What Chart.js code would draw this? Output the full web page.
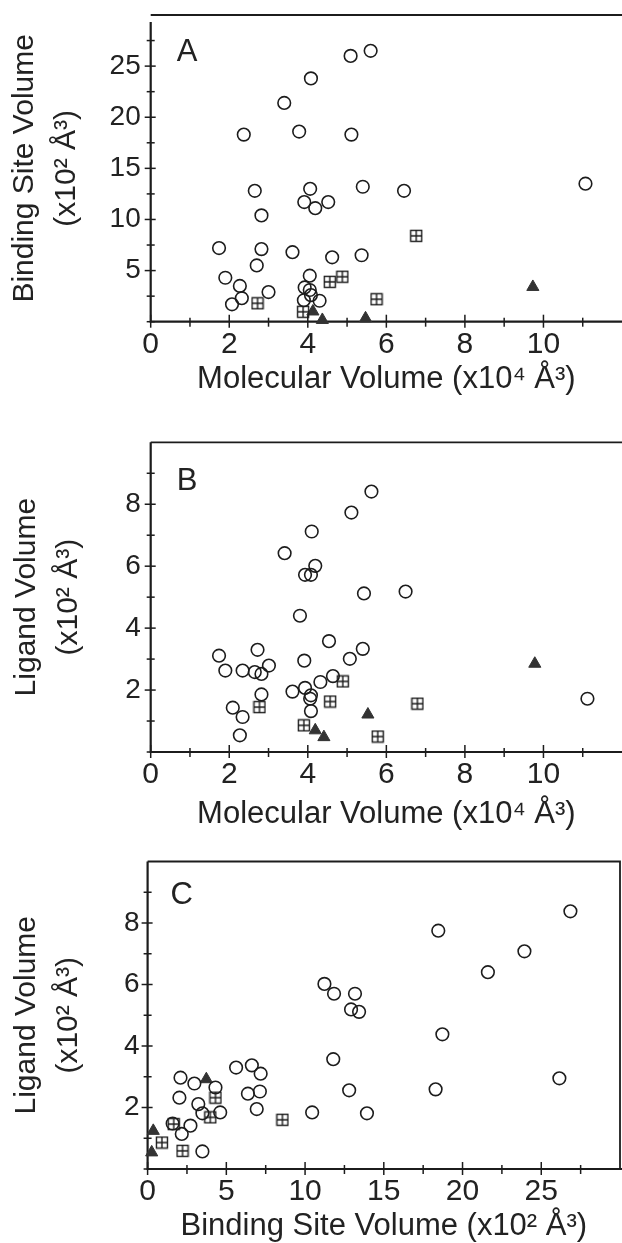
<!DOCTYPE html>
<html><head><meta charset="utf-8">
<script src="https://cdn.jsdelivr.net/npm/chart.js@4.4.1/dist/chart.umd.min.js"></script>
<style>
html,body{margin:0;padding:0;background:#fff;overflow:hidden;width:622px;height:1243px;}
canvas{position:absolute;left:0;display:block;}
</style></head><body>
<canvas id="ca" width="622" height="405" style="top:0px"></canvas>
<canvas id="cb" width="622" height="435" style="top:405px"></canvas>
<canvas id="cc" width="622" height="403" style="top:840px"></canvas>
<script>
// ---------- DATA ----------
// Panel A: Molecular Volume (x10^4 Å^3) vs Binding Site Volume (x10^2 Å^3)
const aCircleMol  = [5.60,5.09,4.08,3.40,2.37,3.78,5.11,11.07,5.40,6.45,2.65,4.06,3.91,4.19,4.52,2.82,1.74,2.82,3.61,4.62,5.37,2.70,1.90,4.05,2.27,2.32,2.07,3.00,3.92,4.05,3.90,4.08,4.30];
const aCircleSite = [26.5,26.0,23.8,21.4,18.3,18.6,18.3,13.5,13.2,12.8,12.8,13.0,11.7,11.1,11.7,10.4,7.2,7.1,6.8,6.3,6.5,5.5,4.3,4.5,3.5,2.3,1.7,2.9,3.35,3.1,2.1,2.6,2.05];
const aSquareMol  = [2.72,4.56,4.88,5.75,6.76,3.88];
const aSquareSite = [1.8,3.9,4.4,2.2,8.4,0.97];
const aTriMol     = [9.73,5.47,4.37,4.13];
const aTriSite    = [3.4,0.33,0.17,1.0];

// Panel B: Molecular Volume (x10^4 Å^3) vs Ligand Volume (x10^2 Å^3)
const bCircleMol  = [5.62,5.11,4.10,3.41,4.19,3.93,4.08,5.43,6.49,3.80,4.54,5.40,2.72,1.74,3.91,5.07,3.01,1.90,2.34,2.65,2.82,4.64,4.32,3.61,3.93,2.82,4.08,4.06,2.09,2.34,4.08,2.27,11.12];
const bCircleLig  = [8.41,7.73,7.12,6.42,6.01,5.72,5.72,5.12,5.18,4.40,3.58,3.33,3.30,3.11,2.95,3.01,2.79,2.63,2.63,2.58,2.52,2.45,2.26,1.95,2.07,1.86,1.83,1.72,1.43,1.13,1.32,0.54,1.72];
const bSquareMol  = [4.89,4.57,2.77,6.79,3.90,5.78];
const bSquareLig  = [2.28,1.63,1.45,1.56,0.86,0.50];
const bTriMol     = [9.78,5.53,4.19,4.41];
const bTriLig     = [2.85,1.21,0.70,0.48];

// Panel C: Binding Site Volume (x10^2 Å^3) vs Ligand Volume (x10^2 Å^3)
const cCircleSite = [26.85,18.46,23.93,21.61,11.23,11.84,13.17,12.92,13.43,18.72,11.79,26.15,18.29,12.80,13.93,10.45,5.62,6.62,7.18,6.37,7.13,6.93,2.09,2.97,2.02,3.22,3.48,4.61,2.72,2.17,1.59,3.48,4.31];
const cCircleLig  = [8.38,7.75,7.08,6.40,6.02,5.70,5.70,5.19,5.11,4.38,3.57,2.95,2.59,2.56,1.81,1.84,3.30,3.37,3.10,2.45,2.52,1.95,2.97,2.78,2.32,2.11,1.81,1.84,1.41,1.14,1.48,0.57,2.65];
const cSquareSite = [8.56,4.31,3.98,1.66,0.91,2.22];
const cSquareLig  = [1.60,2.32,1.68,1.46,0.86,0.59];
const cTriSite    = [3.73,0.36,0.26];
const cTriLig     = [2.92,1.24,0.54];

// Axis tick settings
const xTicksMol  = {min:0, max:12, step:1, labelEvery:2};
const xTicksSite = {min:0, max:30, step:2.5, labelEvery:5};
const yTicksSite = {min:0, max:30, step:2.5, labelEvery:5};
const yTicksLig  = {min:0, max:10, step:1, labelEvery:2};

// ---------- STYLE ----------
const INK = '#1c1c1c';
const TXT = '#222222';
const FONT = "'Liberation Sans', Arial, Helvetica, sans-serif";

function pairs(xs, ys){ return xs.map((v,i)=>({x:v, y:ys[i]})); }

// crossed-square marker
const sq = document.createElement('canvas');
sq.width = 14; sq.height = 14;
(function(){
  const g = sq.getContext('2d');
  g.strokeStyle = INK; g.lineWidth = 1.4;
  g.strokeRect(1.5,1.5,11,11);
  g.beginPath(); g.moveTo(7,1.5); g.lineTo(7,12.5); g.moveTo(1.5,7); g.lineTo(12.5,7); g.stroke();
})();

function datasets(cx, cy, sx, sy, tx, ty){
  return [
    {data:pairs(cx,cy), pointStyle:'circle', pointRadius:6.3, borderWidth:1.6, borderColor:INK, backgroundColor:'rgba(0,0,0,0)', clip:false},
    {data:pairs(sx,sy), pointStyle:sq, pointRadius:7, clip:false},
    {data:pairs(tx,ty), pointStyle:'triangle', pointRadius:7, borderWidth:1, borderColor:'#333', backgroundColor:'#333', clip:false}
  ];
}

const framePlugin = {
  id:'frame',
  beforeDatasetsDraw(chart, args, o){
    const {ctx, chartArea:a} = chart;
    const x = chart.scales.x, y = chart.scales.y;
    ctx.save();
    ctx.strokeStyle = INK; ctx.lineCap = 'butt';
    ctx.lineWidth = 2.2;
    ctx.beginPath(); ctx.moveTo(a.left, a.top + o.gap); ctx.lineTo(a.left, a.bottom); ctx.lineTo(a.right+2, a.bottom); ctx.stroke();
    ctx.lineWidth = 1.8;
    ctx.beginPath(); ctx.moveTo(a.left, a.top); ctx.lineTo(a.right, a.top);
    if (o.right) ctx.lineTo(a.right, a.bottom);
    ctx.stroke();
    ctx.lineWidth = 1.5;
    x.ticks.forEach(t=>{
      const p = x.getPixelForValue(t.value);
      if (p > a.right - 1) return;
      const major = t.label !== '';
      ctx.beginPath(); ctx.moveTo(p, a.bottom - (major?7:4)); ctx.lineTo(p, a.bottom + (major?6:5)); ctx.stroke();
    });
    y.ticks.forEach(t=>{
      const p = y.getPixelForValue(t.value);
      if (p < a.top + 6) return;
      const major = t.label !== '';
      ctx.beginPath(); ctx.moveTo(a.left - (major?6:4), p); ctx.lineTo(a.left + (major?5:4), p); ctx.stroke();
    });
    // panel letter
    ctx.fillStyle = TXT; ctx.font = '31px ' + FONT; ctx.textBaseline = 'alphabetic'; ctx.textAlign = 'left';
    ctx.fillText(o.letter, a.left + o.lx, a.top + o.ly);
    ctx.restore();
  }
};

function isLabel(v, spec, allowZero){
  const k = v / spec.labelEvery;
  if (Math.abs(k - Math.round(k)) > 1e-6) return false;
  if (v >= spec.max - 1e-9) return false;
  if (!allowZero && v <= 0) return false;
  return true;
}

function makeChart(id, cfg){
  return new Chart(document.getElementById(id), {
    type:'scatter',
    data:{datasets:cfg.ds},
    plugins:[framePlugin],
    options:{
      responsive:false, animation:false, devicePixelRatio:1,
      layout:{autoPadding:false, padding:{top:cfg.top, right:cfg.right, left:0, bottom:0}},
      plugins:{legend:{display:false}, tooltip:{enabled:false}, frame:{letter:cfg.letter, right:cfg.frameRight, lx:cfg.lx, ly:cfg.ly, gap:cfg.gap}},
      scales:{
        x:{type:'linear', position:'bottom', min:cfg.xs.min, max:cfg.xs.max,
           grid:{display:false, drawTicks:false}, border:{display:false},
           ticks:{stepSize:cfg.xs.step, autoSkip:false, maxRotation:0, color:TXT, font:{family:FONT, size:30}, padding:cfg.xPad,
                  callback:(v)=> isLabel(v, cfg.xs, true) ? String(v) : ''},
           title:{display:true, text:cfg.xTitle, color:TXT, font:{family:FONT, size:31, lineHeight:1.0}, padding:{top:0, bottom:cfg.xTitlePad}},
           afterFit:(s)=>{ s.height = cfg.xH; s.paddingLeft = 0; s.paddingRight = 0; }
        },
        y:{type:'linear', position:'left', min:cfg.ys.min, max:cfg.ys.max,
           grid:{display:false, drawTicks:false}, border:{display:false},
           ticks:{stepSize:cfg.ys.step, autoSkip:false, color:TXT, font:{family:FONT, size:28}, padding:cfg.yPad,
                  callback:(v)=> isLabel(v, cfg.ys, false) ? String(v) : ''},
           title:{display:true, text:cfg.yTitle, color:TXT, font:{family:FONT, size:30, lineHeight:1.4}, padding:{top:cfg.yTitlePad, bottom:0}},
           afterFit:(s)=>{ s.width = cfg.yW; s.paddingTop = 0; s.paddingBottom = 0; }
        }
      }
    }
  });
}

makeChart('ca', {
  ds:datasets(aCircleMol,aCircleSite,aSquareMol,aSquareSite,aTriMol,aTriSite),
  top:15, right:0, xH:405-321.7, yW:150.7, xs:xTicksMol, ys:yTicksSite, gap:7,
  xTitle:'Molecular Volume (x10⁴ Å³)', yTitle:['Binding Site Volume','(x10² Å³)'],
  xPad:5, yPad:10, xTitlePad:10, yTitlePad:4, letter:'A', frameRight:false, lx:26, ly:46
});
makeChart('cb', {
  ds:datasets(bCircleMol,bCircleLig,bSquareMol,bSquareLig,bTriMol,bTriLig),
  top:442.3-405, right:0, xH:435-347, yW:150.7, xs:xTicksMol, ys:yTicksLig, gap:0,
  xTitle:'Molecular Volume (x10⁴ Å³)', yTitle:['Ligand Volume','(x10² Å³)'],
  xPad:5, yPad:10, xTitlePad:10, yTitlePad:6, letter:'B', frameRight:false, lx:26, ly:48
});
makeChart('cc', {
  ds:datasets(cCircleSite,cCircleLig,cSquareSite,cSquareLig,cTriSite,cTriLig),
  top:861.5-840, right:2, xH:403-329, yW:147.6, xs:xTicksSite, ys:yTicksLig, gap:0,
  xTitle:'Binding Site Volume (x10² Å³)', yTitle:['Ligand Volume','(x10² Å³)'],
  xPad:5, yPad:8, xTitlePad:1, yTitlePad:6, letter:'C', frameRight:true, lx:23, ly:42
});
</script>
</body></html>
